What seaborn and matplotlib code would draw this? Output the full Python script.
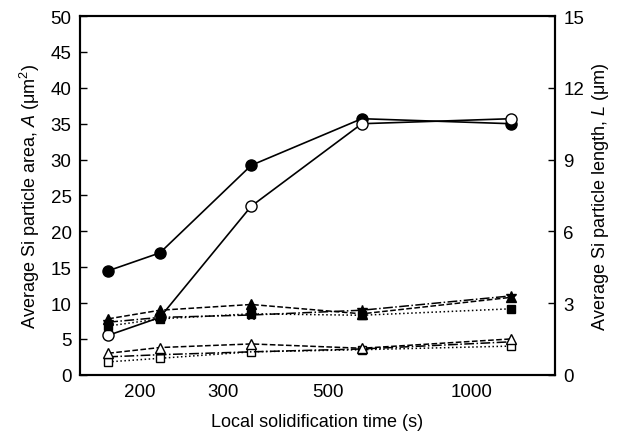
import numpy as np
import pandas as pd
import matplotlib
matplotlib.use("Agg")
import matplotlib.pyplot as plt
import seaborn as sns
from matplotlib.ticker import FixedLocator, NullFormatter, NullLocator

sns.set_theme(style="white")
plt.rcParams['font.family'] = ['Liberation Sans', 'DejaVu Sans']
plt.rcParams['mathtext.fontset'] = 'custom'
plt.rcParams['mathtext.rm'] = 'Liberation Sans'
plt.rcParams['mathtext.it'] = 'Liberation Sans:italic'

# Local solidification time (s)
time_s = [172, 221, 344, 588, 1214]

# Average Si particle area A (um^2) -- left axis
area_filled = [14.5, 17.0, 29.2, 35.7, 35.0]
area_open = [5.5, 8.0, 23.5, 35.0, 35.7]

# Average Si particle length L (um) -- right axis
len_tri_filled = [2.34, 2.70, 2.94, 2.55, 3.24]
len_sq_filled = [2.04, 2.34, 2.55, 2.49, 2.76]
len_star_filled = [2.20, 2.40, 2.50, 2.70, 3.30]
len_tri_open = [0.90, 1.14, 1.29, 1.11, 1.50]
len_sq_open = [0.54, 0.69, 0.96, 1.05, 1.20]
len_dd_open = [0.75, 0.84, 0.96, 1.08, 1.38]

xticks = [200, 300, 500, 1000]
left_ticks = [0, 5, 10, 15, 20, 25, 30, 35, 40, 45, 50]
right_ticks = [0, 3, 6, 9, 12, 15]

fig = plt.figure(figsize=(6.25, 4.39), dpi=100)
ax = fig.add_axes([0.128, 0.144, 0.76, 0.817])
ax2 = ax.twinx()

def draw(axis, y, marker, ls, fill, ms=7, lw=1.2):
    sns.lineplot(x=time_s, y=y, ax=axis, color='black', marker=marker,
                 linestyle=ls, linewidth=lw, markersize=ms,
                 markerfacecolor='black' if fill else 'white',
                 markeredgecolor='black', markeredgewidth=1.0,
                 errorbar=None, legend=False)

draw(ax, area_filled, 'o', '-', True, ms=8)
draw(ax, area_open, 'o', '-', False, ms=8)

draw(ax2, len_sq_filled, 's', ':', True, ms=6, lw=1.1)
draw(ax2, len_star_filled, '*', '-.', True, ms=7, lw=1.1)
draw(ax2, len_tri_filled, '^', '--', True, ms=7, lw=1.1)
draw(ax2, len_sq_open, 's', ':', False, ms=6, lw=1.1)
draw(ax2, len_dd_open, None, '-.', False, ms=6, lw=1.1)
draw(ax2, len_tri_open, '^', '--', False, ms=7, lw=1.1)

ax.set_xscale('log')
ax.set_xlim(150, 1500)
ax.xaxis.set_major_locator(FixedLocator(xticks))
ax.set_xticklabels([str(t) for t in xticks])
ax.xaxis.set_minor_locator(NullLocator())
ax.xaxis.set_minor_formatter(NullFormatter())
ax.set_ylim(0, 50)
ax.set_yticks(left_ticks)
ax2.set_ylim(0, 15)
ax2.set_yticks(right_ticks)

for a in (ax, ax2):
    for sp in a.spines.values():
        sp.set_color('black')
        sp.set_linewidth(1.5)
    a.tick_params(direction='in', length=5, width=1, colors='black',
                  labelsize=13.5, pad=6)
    a.grid(False)

ax.set_xlabel('Local solidification time (s)', fontsize=13, color='black', labelpad=9)
ax.set_ylabel(r'Average Si particle area, $\mathit{A}$ ($\mathrm{\mu m^2}$)',
              fontsize=13, color='black', labelpad=6)
ax2.set_ylabel(r'Average Si particle length, $\mathit{L}$ ($\mathrm{\mu m}$)',
               fontsize=13, color='black', rotation=90, labelpad=4)

fig.savefig('out.png', dpi=100, facecolor='white')
